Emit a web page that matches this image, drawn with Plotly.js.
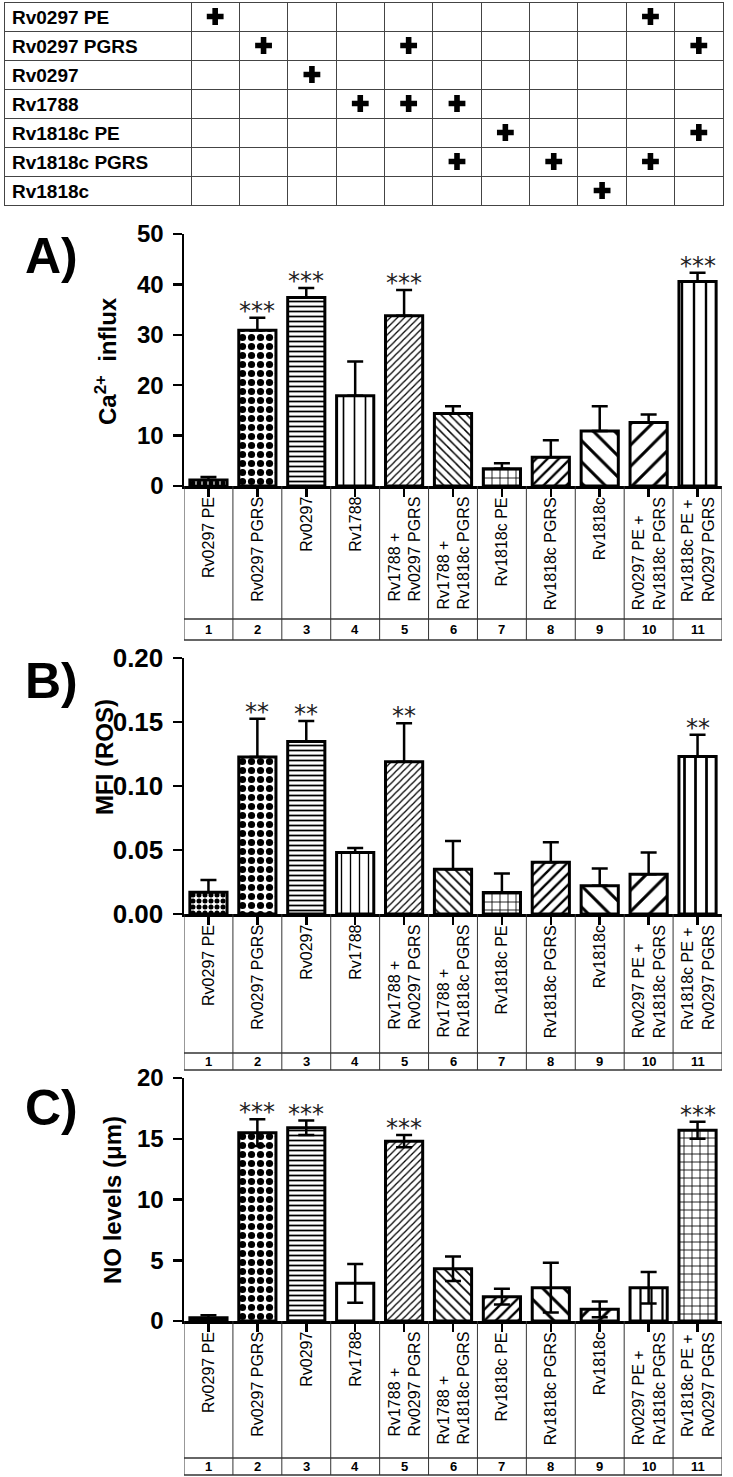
<!DOCTYPE html>
<html>
<head>
<meta charset="utf-8">
<script src="https://cdn.plot.ly/plotly-3.0.1.min.js"></script>
<style>html,body{margin:0;padding:0;background:#fff}</style>
</head>
<body>
<div id="chart" style="width:733px;height:1477px"></div>
<script>
// rows of the top table, and the treatments (1..11) that contain each construct
var constructs = ['Rv0297 PE', 'Rv0297 PGRS', 'Rv0297', 'Rv1788', 'Rv1818c PE', 'Rv1818c PGRS', 'Rv1818c'];
var plusIn = [[1, 10], [2, 5, 11], [3], [4, 5, 6], [7, 11], [6, 8, 10], [9]];

// treatments
var groupNums = ['1', '2', '3', '4', '5', '6', '7', '8', '9', '10', '11'];
var groups = ['Rv0297 PE', 'Rv0297 PGRS', 'Rv0297', 'Rv1788', 'Rv1788 +<br>Rv0297 PGRS',
    'Rv1788 +<br>Rv1818c PGRS', 'Rv1818c PE', 'Rv1818c PGRS', 'Rv1818c',
    'Rv0297 PE +<br>Rv1818c PGRS', 'Rv1818c PE +<br>Rv0297 PGRS'];

// A) Ca2+ influx
var caInflux = [1.2, 30.9, 37.4, 17.9, 33.8, 14.4, 3.4, 5.7, 10.9, 12.6, 40.6];
var caErr = [0.6, 2.5, 1.9, 6.8, 5.1, 1.4, 1.1, 3.4, 4.9, 1.6, 1.7];
var caSig = ['', '***', '***', '', '***', '', '', '', '', '', '***'];

// B) MFI (ROS)
var ros = [0.017, 0.1226, 0.1348, 0.048, 0.119, 0.035, 0.0167, 0.0404, 0.022, 0.031, 0.123];
var rosErr = [0.0096, 0.030, 0.016, 0.0036, 0.030, 0.022, 0.015, 0.0156, 0.0136, 0.017, 0.017];
var rosSig = ['', '**', '**', '', '**', '', '', '', '', '', '**'];

// C) NO levels
var noLevels = [0.27, 15.5, 15.9, 3.1, 14.8, 4.3, 2.0, 2.74, 0.96, 2.74, 15.7];
var noErr = [0.2, 1.1, 0.6, 1.6, 0.5, 1.0, 0.65, 2.05, 0.65, 1.3, 0.7];
var noSig = ['', '***', '***', '', '***', '', '', '', '', '', '***'];

var W = 733, H = 1477;
function fx(p) { return p / W; }
function fy(p) { return 1 - p / H; }

var SANS = 'Liberation Sans, Arial, sans-serif';

// ---- top table: label column + 11 empty grid columns, the "+" marks are a scatter on top
var headerVals = [constructs[0]];
var tableCols = [constructs.slice(1)];
var plusX = [], plusY = [];
for (var g = 1; g <= 11; g++) {
    headerVals.push(' ');
    tableCols.push(constructs.slice(1).map(function () { return ' '; }));
}
plusIn.forEach(function (list, r) {
    list.forEach(function (g) { plusX.push(g); plusY.push(r); });
});
var colW = [187];
for (var c = 0; c < 11; c++) colW.push(48.36);

var cellStyle = {
    align: 'left',
    height: 29,
    line: { color: '#444', width: 1 },
    fill: { color: 'rgba(255,255,255,0)' },
    font: { family: SANS, size: 19, color: 'black', weight: 700 }
};

var data = [{
    type: 'table',
    domain: { x: [fx(4), fx(723)], y: [fy(206), fy(2)] },
    columnwidth: colW,
    header: Object.assign({ values: headerVals }, cellStyle),
    cells: Object.assign({ values: tableCols }, cellStyle)
}, {
    type: 'scatter', mode: 'markers', x: plusX, y: plusY, xaxis: 'x4', yaxis: 'y4',
    marker: { symbol: 'cross', size: 14, color: 'black' }
}];

// ---- bar panels
var panels = [
    { xa: 'x', ya: 'y', top: 234, base: 486, line: 619, bottom: 640, range: [0, 50], dtick: 10, fmt: '', tsize: 24,
      vals: caInflux, err: caErr, sig: caSig, both: false, letter: 'A)', letterY: 256,
      title: 'Ca<sup>2+</sup>\u00a0 influx', titleX: 106, titleY: 361,
      shapes: ['.', '.', '-', '|', '/', '\\', '+', '/', '\\', '/', '|'],
      sizes: [6, 9, 5, 11, 5, 6, 8, 8, 15, 15, 12],
      solid: [0.55, 0.5, 0.35, 0.15, 0.25, 0.25, 0.2, 0.3, 0.2, 0.2, 0.2] },
    { xa: 'x2', ya: 'y2', top: 658, base: 914, line: 1053, bottom: 1070, range: [0, 0.2], dtick: 0.05, fmt: '.2f', tsize: 26,
      vals: ros, err: rosErr, sig: rosSig, both: false, letter: 'B)', letterY: 681,
      title: 'MFI (ROS)', titleX: 104, titleY: 757,
      shapes: ['.', '.', '-', '|', '/', '\\', '+', '/', '\\', '/', '|'],
      sizes: [6, 9, 5, 9, 5, 7, 8, 8, 15, 15, 11],
      solid: [0.55, 0.5, 0.35, 0.15, 0.25, 0.25, 0.2, 0.3, 0.2, 0.2, 0.25] },
    { xa: 'x3', ya: 'y3', top: 1078, base: 1321, line: 1458, bottom: 1475, range: [0, 20], dtick: 5, fmt: '', tsize: 24,
      vals: noLevels, err: noErr, sig: noSig, both: true, letter: 'C)', letterY: 1108,
      title: 'NO levels (\u03bcm)', titleX: 112, titleY: 1200,
      shapes: ['.', '.', '-', '', '/', '\\', '/', '\\', '/', '|', '+'],
      sizes: [4, 9, 5, 8, 5, 7, 8, 15, 15, 11, 8],
      solid: [0.8, 0.5, 0.35, 0.2, 0.25, 0.25, 0.3, 0.2, 0.2, 0.2, 0.2] }
];

var layout = {
    width: W, height: H,
    margin: { l: 0, r: 0, t: 0, b: 0 },
    paper_bgcolor: 'white', plot_bgcolor: 'rgba(0,0,0,0)',
    showlegend: false,
    annotations: [], shapes: [],
    // hidden axes that place the "+" marks in the table cells
    xaxis4: { domain: [fx(191), fx(723)], range: [0.5, 11.5], visible: false, fixedrange: true, anchor: 'y4' },
    yaxis4: { domain: [fy(205), fy(2)], range: [6.5, -0.5], visible: false, fixedrange: true, anchor: 'x4' }
};

panels.forEach(function (p, k) {
    var zeros = p.vals.map(function () { return 0; });
    data.push({
        type: 'bar', x: groupNums, y: p.vals, xaxis: p.xa, yaxis: p.ya,
        width: 0.76,
        marker: {
            color: 'white',
            line: { color: 'black', width: 3 },
            pattern: { shape: p.shapes, size: p.sizes, solidity: p.solid, fgcolor: 'black', bgcolor: 'white', fillmode: 'replace' }
        },
        error_y: p.both
            ? { type: 'data', array: p.err, symmetric: true, color: 'black', thickness: 2.5, width: 8 }
            : { type: 'data', array: p.err, arrayminus: zeros, symmetric: false, color: 'black', thickness: 2.5, width: 8 }
    });

    var sfx = k === 0 ? '' : String(k + 1);
    layout['xaxis' + sfx] = {
        domain: [fx(184), fx(722)], anchor: p.ya, type: 'category', range: [-0.5, 10.5],
        showline: true, linecolor: 'black', linewidth: 2.5,
        ticks: 'outside', ticklen: 8, tickwidth: 2.5, tickcolor: 'black',
        showticklabels: false, showgrid: false, zeroline: false, fixedrange: true
    };
    layout['yaxis' + sfx] = {
        domain: [fy(p.base), fy(p.top)], anchor: p.xa, range: p.range, dtick: p.dtick, tick0: 0,
        tickformat: p.fmt,
        showline: true, linecolor: 'black', linewidth: 2.5,
        ticks: 'outside', ticklen: 9, tickwidth: 2.5, tickcolor: 'black',
        ticklabelstandoff: 4,
        tickfont: { family: SANS, size: p.tsize, color: 'black', weight: 700 },
        showgrid: false, zeroline: false, fixedrange: true
    };

    // panel letter and y title
    layout.annotations.push({
        text: p.letter, xref: 'paper', yref: 'paper', x: fx(51), y: fy(p.letterY),
        xanchor: 'center', yanchor: 'middle',
        showarrow: false, font: { family: SANS, size: 50, color: 'black', weight: 700 }
    });
    layout.annotations.push({
        text: p.title, xref: 'paper', yref: 'paper', x: fx(p.titleX), y: fy(p.titleY), textangle: -90,
        xanchor: 'center', yanchor: 'middle',
        showarrow: false, font: { family: SANS, size: 24, color: 'black', weight: 700 }
    });

    groups.forEach(function (name, i) {
        // rotated treatment label
        layout.annotations.push({
            text: name, xref: p.xa, yref: 'paper', x: i, y: fy(p.base + 9),
            xanchor: 'center', yanchor: 'top', textangle: -90, align: 'left', showarrow: false,
            font: { family: SANS, size: 16, color: 'black' }
        });
        // number row
        layout.annotations.push({
            text: groupNums[i], xref: p.xa, yref: 'paper', x: i, y: fy((p.line + p.bottom) / 2),
            xanchor: 'center', yanchor: 'middle', showarrow: false,
            font: { family: SANS, size: 13, color: 'black', weight: 700 }
        });
        // significance stars
        if (p.sig[i]) {
            layout.annotations.push({
                text: p.sig[i], xref: p.xa, yref: p.ya, x: i, y: p.vals[i] + p.err[i],
                xanchor: 'center', yanchor: 'bottom', yshift: -9, showarrow: false,
                font: { family: 'DejaVu Sans, sans-serif', size: 24, color: '#222' }
            });
        }
    });

    // label box grid
    for (var b = 0; b <= 11; b++) {
        layout.shapes.push({
            type: 'line', xref: p.xa, yref: 'paper', x0: b - 0.5, x1: b - 0.5,
            y0: fy(p.base), y1: fy(p.bottom), line: { color: '#333', width: 1 }
        });
    }
    [p.line, p.bottom].forEach(function (yy) {
        layout.shapes.push({
            type: 'line', xref: p.xa, yref: 'paper', x0: -0.5, x1: 10.5,
            y0: fy(yy), y1: fy(yy), line: { color: '#333', width: 1.5 }
        });
    });
});

Plotly.newPlot('chart', data, layout, { displayModeBar: false, staticPlot: true });
</script>
</body>
</html>
